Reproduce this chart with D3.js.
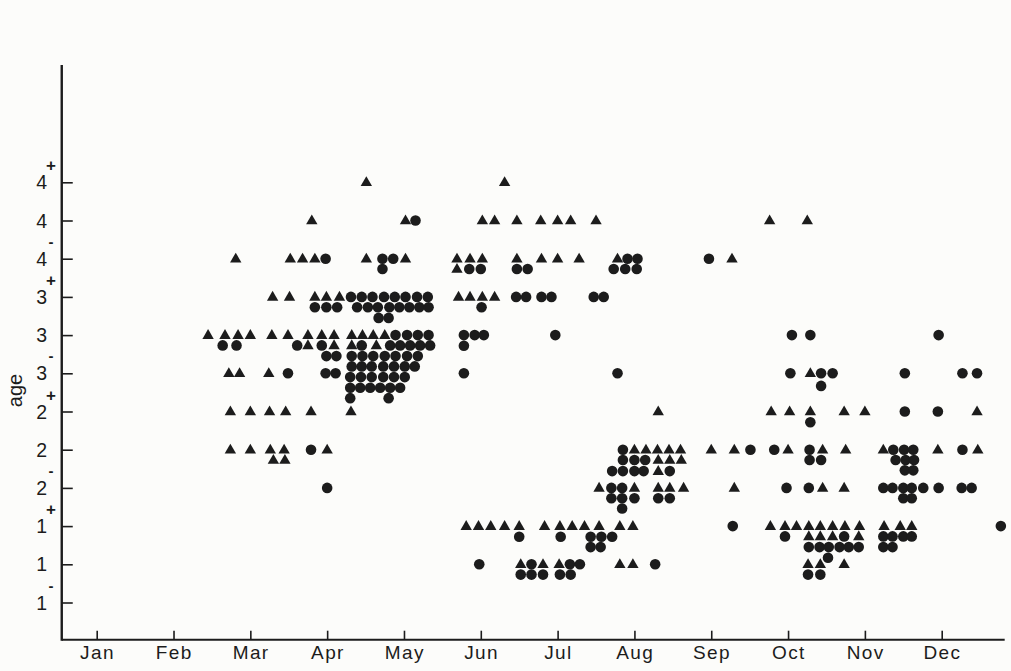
<!DOCTYPE html>
<html>
<head>
<meta charset="utf-8">
<script src="https://cdn.jsdelivr.net/npm/d3@7"></script>
<style>
  html, body { margin: 0; padding: 0; background: #fcfcfa; }
  svg { display: block; }
</style>
</head>
<body>
<svg id="chart" width="1011" height="671"></svg>
<script>
// ---------- data ----------
const monthLabels = ["Jan","Feb","Mar","Apr","May","Jun","Jul","Aug","Sep","Oct","Nov","Dec"];
const monthTicks = [1,2,3,4,5,6,7,8,9,10,11,12];
const ageLevels = [1,2,3,4,5,6,7,8,9,10,11,12];
const ageDigits = ["1","1","1","2","2","2","3","3","3","4","4","4"];
const ageMarks  = ["-","","+","-","","+","-","","+","-","","+"];

// [month, age level]  (level 1 = 1-, 2 = 1, 3 = 1+, ... 12 = 4+)
const triangles = [
  [4.51,12],
  [3.80,11],[5.02,11],
  [2.81,10],[3.52,10],[3.68,10],[3.84,10],[4.51,10],[5.02,10],
  [3.29,9],[3.51,9],[3.84,9],[3.99,9],[4.16,9],
  [2.45,8],[2.67,8],[2.84,8],[3.00,8],[3.28,8],[3.49,8],[3.75,8],[3.93,8],[4.09,8],[4.32,8],[4.46,8],[4.60,8],[4.75,8],
  [3.75,7.73],[4.09,7.73],[4.32,7.73],[4.64,7.73],
  [2.72,7],[2.86,7],[3.24,7],
  [2.74,6],[3.00,6],[3.25,6],[3.46,6],[3.79,6],[4.31,6],
  [2.74,5],[3.00,5],[3.26,5],[3.44,5],[4.00,5],
  [3.30,4.73],[3.45,4.73],
  [6.31,12],
  [6.02,11],[6.18,11],[6.47,11],[6.78,11],[7.00,11],[7.17,11],[7.50,11],
  [5.69,10],[5.86,10],[6.02,10],[6.47,10],[6.79,10],[7.00,10],[7.28,10],[7.78,10],
  [5.69,9.73],
  [5.71,9],[5.86,9],[6.02,9],[6.18,9],
  [8.31,6],
  [8.00,5],[8.15,5],[8.30,5],[8.45,5],[8.60,5],
  [8.31,4.73],[8.46,4.73],[8.61,4.73],
  [8.31,4.44],
  [7.54,4],[8.00,4],[8.31,4],[8.46,4],[8.64,4],
  [5.81,3],[5.97,3],[6.13,3],[6.31,3],[6.50,3],[6.83,3],[7.03,3],[7.19,3],[7.35,3],[7.54,3],[7.81,3],[7.98,3],
  [6.52,2],[6.81,2],[7.02,2],[7.81,2],[7.98,2],
  [9.76,11],[10.25,11],
  [9.27,10],
  [10.29,7],
  [9.78,6],[10.02,6],[10.29,6],[10.73,6],[11.00,6],[12.46,6],
  [9.00,5],[9.30,5],[10.00,5],[10.45,5],[10.75,5],[11.24,5],[11.95,5],[12.47,5],
  [9.30,4],[10.45,4],[10.73,4],
  [9.77,3],[9.96,3],[10.11,3],[10.27,3],[10.42,3],[10.58,3],[10.74,3],[10.93,3],[11.25,3],[11.46,3],[11.61,3],
  [10.27,2.73],[10.42,2.73],[10.58,2.73],[10.92,2.73],
  [10.26,2],[10.42,2],[10.73,2]
];

const circles = [
  [5.15,11],
  [3.98,10],[4.72,10],[4.86,10],
  [4.72,9.73],
  [4.31,9],[4.45,9],[4.59,9],[4.74,9],[4.88,9],[5.02,9],[5.17,9],[5.31,9],
  [3.84,8.73],[3.99,8.73],[4.13,8.73],[4.39,8.73],[4.53,8.73],[4.66,8.73],[4.81,8.73],[4.94,8.73],[5.07,8.73],[5.20,8.73],[5.32,8.73],
  [4.67,8.45],[4.80,8.45],
  [4.89,8],[5.04,8],[5.18,8],[5.32,8],
  [2.64,7.73],[2.82,7.73],[3.61,7.73],[3.93,7.73],[4.45,7.73],[4.82,7.73],[4.95,7.73],[5.08,7.73],[5.21,7.73],[5.34,7.73],
  [3.99,7.45],[4.12,7.45],[4.32,7.45],[4.46,7.45],[4.60,7.45],[4.75,7.45],[4.89,7.45],[5.04,7.45],[5.18,7.45],
  [4.32,7.18],[4.45,7.18],[4.58,7.18],[4.73,7.18],[4.87,7.18],[5.01,7.18],[5.14,7.18],
  [3.49,7],[3.98,7],[4.11,7],
  [4.30,6.9],[4.44,6.9],[4.58,6.9],[4.73,6.9],[4.87,6.9],[5.01,6.9],
  [4.30,6.62],[4.43,6.62],[4.56,6.62],[4.69,6.62],[4.82,6.62],[4.95,6.62],
  [4.30,6.35],[4.80,6.35],
  [3.79,5],
  [4.00,4],
  [7.91,10],[8.04,10],
  [5.85,9.73],[6.00,9.73],[6.47,9.73],[6.61,9.73],[7.73,9.73],[7.88,9.73],[8.03,9.73],
  [6.46,9],[6.59,9],[6.79,9],[6.92,9],[7.47,9],[7.60,9],
  [6.01,8.73],
  [5.78,8],[5.92,8],[6.04,8],[6.97,8],
  [5.78,7.72],
  [5.78,7],[7.78,7],
  [7.85,5],
  [7.85,4.73],[8.00,4.73],[8.14,4.73],
  [7.71,4.44],[7.85,4.44],[8.00,4.44],[8.12,4.44],[8.46,4.44],
  [7.70,4],[7.84,4],
  [7.70,3.73],[7.84,3.73],[8.00,3.73],[8.31,3.73],[8.46,3.73],
  [7.84,3.46],
  [6.50,2.72],[7.04,2.72],[7.43,2.72],[7.57,2.72],[7.71,2.72],
  [7.43,2.45],[7.56,2.45],
  [5.98,2],[6.66,2],[7.16,2],[7.29,2],[8.27,2],
  [6.52,1.73],[6.66,1.73],[6.81,1.73],[7.03,1.73],[7.17,1.73],
  [8.97,10],
  [10.05,8],[10.29,8],[11.96,8],
  [10.03,7],[10.43,7],[10.58,7],[11.52,7],[12.27,7],[12.46,7],
  [10.43,6.67],
  [11.52,6],[11.95,6],
  [10.29,5.72],
  [9.51,5],[9.82,5],[10.28,5],[11.37,5],[11.51,5],[11.63,5],[12.27,5],
  [10.28,4.73],[10.43,4.73],[11.40,4.73],[11.53,4.73],[11.64,4.73],
  [11.52,4.46],[11.63,4.46],
  [9.98,4],[10.27,4],[11.24,4],[11.36,4],[11.50,4],[11.61,4],[11.76,4],[11.96,4],[12.26,4],[12.39,4],
  [11.50,3.73],[11.61,3.73],
  [9.28,3],[12.77,3],
  [9.96,2.73],[10.73,2.73],[11.24,2.73],[11.36,2.73],[11.50,2.73],[11.61,2.73],
  [10.27,2.45],[10.41,2.45],[10.53,2.45],[10.67,2.45],[10.79,2.45],[10.92,2.45],[11.24,2.45],[11.36,2.45],
  [10.52,2.17],
  [10.26,1.73],[10.42,1.73]
];

// ---------- drawing ----------
const ink = "#1c1c1c";
const font = "'Liberation Sans', Arial, sans-serif";
const svg = d3.select("#chart");

const x = d3.scaleLinear().domain([1, 12]).range([96.7, 941.7]);
const y = d3.scaleLinear().domain([0, 12]).range([640.7, 182.3]);

const xMin = 0.545, xMax = 12.82, yTop = 15.07;

// axis lines
svg.append("line")
  .attr("x1", x(xMin)).attr("x2", x(xMin))
  .attr("y1", y(yTop)).attr("y2", y(0))
  .attr("stroke", ink).attr("stroke-width", 2.4);
svg.append("line")
  .attr("x1", x(xMin)).attr("x2", x(xMax))
  .attr("y1", y(0) - 1).attr("y2", y(0) - 1)
  .attr("stroke", ink).attr("stroke-width", 2);

// x ticks (pointing up into plot)
const xAxis = d3.axisBottom(x).tickValues(monthTicks).tickSize(-9).tickFormat("");
const gx = svg.append("g").attr("transform", `translate(0,${y(0) - 1})`).call(xAxis);
gx.select(".domain").remove();
gx.selectAll(".tick line").attr("stroke", ink).attr("stroke-width", 1.6);

svg.append("g").selectAll("text").data(monthTicks).join("text")
  .attr("x", d => x(d) + 0.8)
  .attr("y", 659)
  .attr("text-anchor", "middle")
  .attr("font-family", font)
  .attr("font-size", 19)
  .attr("letter-spacing", 1.4)
  .attr("fill", ink)
  .text((d, i) => monthLabels[i]);

// y ticks (pointing right into plot)
const yAxis = d3.axisLeft(y).tickValues(ageLevels).tickSize(-11).tickFormat("");
const gy = svg.append("g").attr("transform", `translate(${x(xMin)},0)`).call(yAxis);
gy.select(".domain").remove();
gy.selectAll(".tick line").attr("stroke", ink).attr("stroke-width", 1.6);

const yl = svg.append("g");
yl.selectAll("text.digit").data(ageLevels).join("text")
  .attr("class", "digit")
  .attr("x", 47)
  .attr("y", d => y(d) + 7)
  .attr("text-anchor", "end")
  .attr("font-family", font)
  .attr("font-size", 19.5)
  .attr("fill", ink)
  .text((d, i) => ageDigits[i]);
yl.selectAll("text.mark").data(ageLevels.filter((d, i) => ageMarks[i] !== "")).join("text")
  .attr("class", "mark")
  .attr("x", 51)
  .attr("y", d => ageMarks[d - 1] === "+" ? y(d) - 11 : y(d) - 12)
  .attr("text-anchor", "middle")
  .attr("font-family", font)
  .attr("font-weight", "bold")
  .attr("font-size", d => ageMarks[d - 1] === "+" ? 17 : 15)
  .attr("fill", ink)
  .text(d => ageMarks[d - 1]);

svg.append("text")
  .attr("transform", `translate(22,${y(6.55)}) rotate(-90)`)
  .attr("text-anchor", "middle")
  .attr("font-family", font)
  .attr("font-size", 20)
  .attr("fill", ink)
  .text("age");

// marks
const tri = d3.symbol().type(d3.symbolTriangle).size(56);
svg.append("g").selectAll("path").data(triangles).join("path")
  .attr("d", tri)
  .attr("transform", d => `translate(${x(d[0])},${y(d[1]) + 0.5})`)
  .attr("fill", ink);

svg.append("g").selectAll("circle").data(circles).join("circle")
  .attr("cx", d => x(d[0]))
  .attr("cy", d => y(d[1]))
  .attr("r", 5.3)
  .attr("fill", ink);
</script>
</body>
</html>
